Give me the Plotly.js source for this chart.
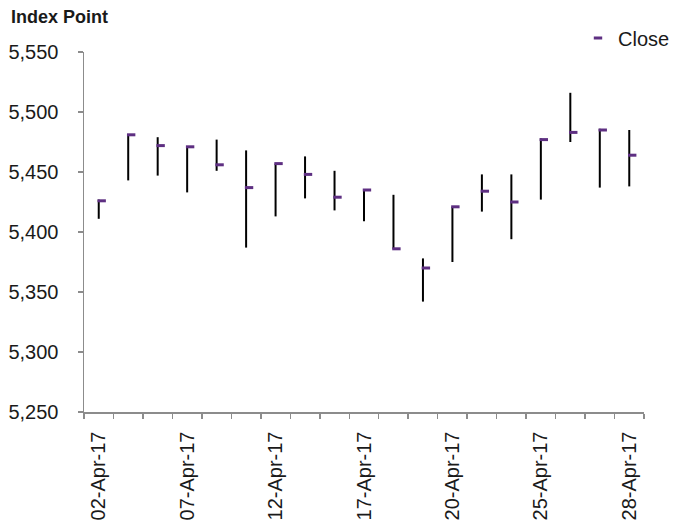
<!DOCTYPE html>
<html>
<head>
<meta charset="utf-8">
<script src="https://cdn.plot.ly/plotly-3.0.1.min.js"></script>
<style>html,body{margin:0;padding:0;background:#fff;}#chart{width:675px;height:525px;}</style>
</head>
<body>
<div id="chart"></div>
<script>
// Trading days (category labels); only every third is labelled on the axis
const dates = ['02-Apr-17','03-Apr-17','05-Apr-17','07-Apr-17','10-Apr-17','11-Apr-17','12-Apr-17',
  '13-Apr-17','16-Apr-17','17-Apr-17','18-Apr-17','19-Apr-17','20-Apr-17','21-Apr-17','24-Apr-17',
  '25-Apr-17','26-Apr-17','27-Apr-17','28-Apr-17'];
const highVals  = [5427, 5481, 5479, 5471, 5477, 5468, 5457, 5463, 5451, 5435, 5431, 5378, 5421, 5448, 5448, 5478, 5516, 5486, 5485];
const lowVals   = [5411, 5443, 5447, 5433, 5451, 5387, 5413, 5428, 5418, 5409, 5386, 5342, 5375, 5417, 5394, 5427, 5475, 5437, 5438];
const closeVals = [5426, 5481, 5472, 5471, 5456, 5437, 5457, 5448, 5429, 5435, 5386, 5370, 5421, 5434, 5425, 5477, 5483, 5485, 5464];
const labelEvery = 3;

const idx = dates.map((d, i) => i);
const segX = [], segY = [];
idx.forEach(i => { segX.push(i, i, null); segY.push(lowVals[i], highVals[i], null); });

const tickVals = idx.filter(i => i % labelEvery === 0);
const tickText = tickVals.map(i => dates[i]);
const boundaries = [];
for (let i = 0; i <= dates.length; i++) boundaries.push(i - 0.5);

const purple = '#5e2f82';
const axisGray = '#8c8c8c';

const traces = [
  {
    x: segX, y: segY, type: 'scatter', mode: 'lines',
    line: {color: '#000000', width: 2}, showlegend: false, hoverinfo: 'skip'
  },
  {
    x: idx.map(i => i + 0.1), y: closeVals, type: 'scatter', mode: 'markers', name: 'Close',
    marker: {symbol: 'line-ew', size: 6, color: purple, line: {color: purple, width: 3}}
  }
];

const layout = {
  width: 675, height: 525,
  margin: {l: 84, r: 31, t: 52, b: 113, pad: 0, autoexpand: false},
  paper_bgcolor: '#ffffff', plot_bgcolor: '#ffffff',
  font: {family: 'Liberation Sans, Arial, sans-serif', color: '#1a1a1a', size: 20},
  showlegend: true,
  legend: {xref: 'container', yref: 'container', x: 1.0, xanchor: 'right', y: 1 - 38/525, yanchor: 'middle',
           bgcolor: 'rgba(0,0,0,0)', font: {size: 20, color: '#1a1a1a'}, itemwidth: 30},
  xaxis: {
    range: [-0.5, dates.length - 0.5], showgrid: false, zeroline: false, automargin: false,
    showline: true, linecolor: axisGray, linewidth: 1.5,
    tickmode: 'array', tickvals: tickVals, ticktext: tickText, ticks: '',
    tickangle: -90, tickfont: {size: 20, color: '#1a1a1a'}, ticklabelstandoff: 10,
    minor: {tickmode: 'array', tickvals: boundaries, ticks: 'outside', ticklen: 5, tickcolor: axisGray, tickwidth: 1.5, showgrid: false}
  },
  yaxis: {
    range: [5250, 5550], showgrid: false, zeroline: false, automargin: false,
    showline: true, linecolor: axisGray, linewidth: 1.5,
    tickmode: 'linear', tick0: 5250, dtick: 50, tickformat: ',d',
    ticks: 'outside', ticklen: 5, tickcolor: axisGray, tickwidth: 1.5,
    tickfont: {size: 20, color: '#1a1a1a'}, ticklabelstandoff: 15
  },
  annotations: [{
    text: '<b>Index Point</b>', xref: 'paper', yref: 'paper', x: (9 - 84) / 560, y: 1 + (52 - 17) / 360,
    xanchor: 'left', yanchor: 'middle', showarrow: false,
    font: {size: 18, color: '#1a1a1a', family: 'Liberation Sans, Arial, sans-serif'}
  }]
};

Plotly.newPlot('chart', traces, layout, {staticPlot: true, displayModeBar: false});
</script>
</body>
</html>
